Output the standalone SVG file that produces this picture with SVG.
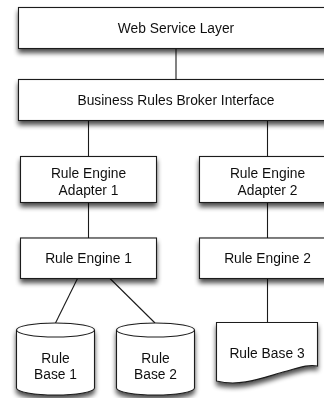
<svg xmlns="http://www.w3.org/2000/svg" width="324" height="398" viewBox="0 0 324 398">
  <defs>
    <filter id="shadow" x="-20%" y="-20%" width="140%" height="160%">
      <feGaussianBlur in="SourceAlpha" stdDeviation="2.4" result="blur"/>
      <feOffset in="blur" dx="0" dy="4" result="off"/>
      <feComponentTransfer in="off" result="soft">
        <feFuncA type="linear" slope="0.7"/>
      </feComponentTransfer>
      <feMerge>
        <feMergeNode in="soft"/>
        <feMergeNode in="SourceGraphic"/>
      </feMerge>
    </filter>
  </defs>
  <style>
    .shape { fill: #ffffff; stroke: #1a1a1a; stroke-width: 1.1; }
    .edge { fill: none; stroke: #1a1a1a; stroke-width: 1.1; }
    .label { font-family: "Liberation Sans", Arial, Helvetica, sans-serif; font-size: 13.8px; fill: #111111; text-anchor: middle; }
  </style>
  <rect width="324" height="398" fill="#ffffff"/>

  <!-- connectors -->
  <g id="connectors">
    <line class="edge" x1="176" y1="48.5" x2="176" y2="79.5"/>
    <line class="edge" x1="88.5" y1="120.5" x2="88.5" y2="156"/>
    <line class="edge" x1="267.5" y1="120.5" x2="267.5" y2="156"/>
    <line class="edge" x1="88.5" y1="202.5" x2="88.5" y2="238"/>
    <line class="edge" x1="267.5" y1="202.5" x2="267.5" y2="238"/>
    <line class="edge" x1="77.5" y1="278.5" x2="55.5" y2="323"/>
    <line class="edge" x1="110" y1="278.5" x2="155" y2="323"/>
    <line class="edge" x1="267.5" y1="278.5" x2="267.5" y2="322.5"/>
  </g>

  <!-- Web Service Layer -->
  <g id="web-service-layer" filter="url(#shadow)">
    <rect class="shape" x="18.5" y="7.5" width="318" height="41"/>
    <text class="label" x="176" y="33">Web Service Layer</text>
  </g>

  <!-- Business Rules Broker Interface -->
  <g id="broker-interface" filter="url(#shadow)">
    <rect class="shape" x="18.5" y="79.5" width="318" height="41"/>
    <text class="label" x="176" y="105">Business Rules Broker Interface</text>
  </g>

  <!-- Adapters -->
  <g id="adapter-1" filter="url(#shadow)">
    <rect class="shape" x="20.5" y="156.5" width="136" height="46"/>
    <text class="label" x="88.5" y="178">Rule Engine</text>
    <text class="label" x="88.5" y="194.5">Adapter 1</text>
  </g>
  <g id="adapter-2" filter="url(#shadow)">
    <rect class="shape" x="199.5" y="156.5" width="136" height="46"/>
    <text class="label" x="267.5" y="178">Rule Engine</text>
    <text class="label" x="267.5" y="194.5">Adapter 2</text>
  </g>

  <!-- Rule engines -->
  <g id="rule-engine-1" filter="url(#shadow)">
    <rect class="shape" x="20.5" y="238" width="136" height="40.5"/>
    <text class="label" x="88.5" y="263">Rule Engine 1</text>
  </g>
  <g id="rule-engine-2" filter="url(#shadow)">
    <rect class="shape" x="199.5" y="238" width="136" height="40.5"/>
    <text class="label" x="267.5" y="263">Rule Engine 2</text>
  </g>

  <!-- Rule bases (cylinders) -->
  <g id="rule-base-1" filter="url(#shadow)">
    <path class="shape" d="M16.5,330 A39,7 0 0 1 94.5,330 V388 A39,7 0 0 1 16.5,388 Z"/>
    <path class="edge" d="M16.5,330 A39,7 0 0 0 94.5,330"/>
    <text class="label" x="55.5" y="362.5">Rule</text>
    <text class="label" x="55.5" y="379">Base 1</text>
  </g>
  <g id="rule-base-2" filter="url(#shadow)">
    <path class="shape" d="M116.5,330 A39,7 0 0 1 194.5,330 V388 A39,7 0 0 1 116.5,388 Z"/>
    <path class="edge" d="M116.5,330 A39,7 0 0 0 194.5,330"/>
    <text class="label" x="155.5" y="362.5">Rule</text>
    <text class="label" x="155.5" y="379">Base 2</text>
  </g>

  <!-- Rule base 3 (document) -->
  <g id="rule-base-3" filter="url(#shadow)">
    <path class="shape" d="M216.5,322.5 H317.5 V366 C308,364 298,368 285,371.5 C262,378 240,387 216.5,381 Z"/>
    <text class="label" x="267" y="358">Rule Base 3</text>
  </g>
</svg>
